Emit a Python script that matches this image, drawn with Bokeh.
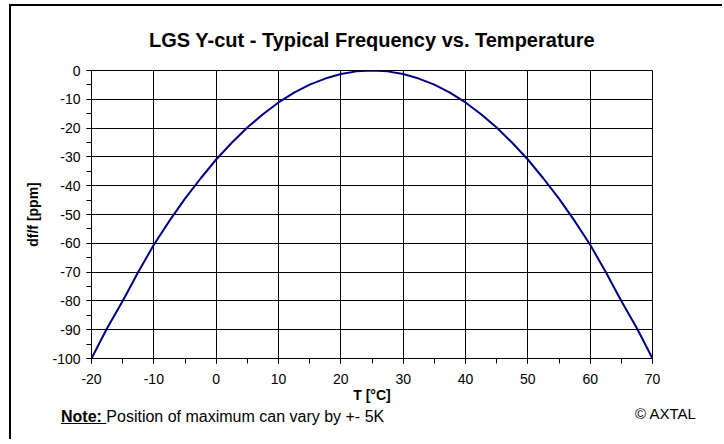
from bokeh.plotting import figure
from bokeh.layouts import column
from bokeh.models import Range1d, SingleIntervalTicker, PrintfTickFormatter, Div
from bokeh.embed import file_html
from bokeh.resources import INLINE

# data
temp_c = [-20, -17.5, -15, -12.5, -10, -7.5, -5, -2.5, 0, 2.5, 5, 7.5, 10, 12.5, 15, 17.5, 20, 22.5,
          25, 27.5, 30, 32.5, 35, 37.5, 40, 42.5, 45, 47.5, 50, 52.5, 55, 57.5, 60, 62.5, 65, 67.5, 70]
dff_ppm = [-100, -89.5, -80, -70, -60.5, -52.2, -44.5, -37.5, -30.9, -25.1, -19.8, -15.2, -11.1, -7.7, -4.9, -2.8, -1.2, -0.3,
           0, -0.3, -1.2, -2.8, -4.9, -7.7, -11.1, -15.2, -19.8, -25.1, -30.9, -37.5, -44.5, -52.2, -60.5, -70, -80, -89.5, -100]

title_text = "LGS Y-cut - Typical Frequency vs. Temperature"
x_label = "T [°C]"
y_label = "df/f [ppm]"
note_bold = "Note:"
note_text = "Position of maximum can vary by +- 5K"
copyright_text = "© AXTAL"

FONT = "Liberation Sans"

p = figure(frame_width=561, frame_height=288, output_backend="svg", toolbar_location=None,
           x_range=Range1d(-20, 70), y_range=Range1d(-100, 0),
           min_border_left=80, min_border_top=63, min_border_right=70, min_border_bottom=47,
           title=title_text)

p.title.align = "center"
p.title.text_font = FONT
p.title.text_font_size = "20px"
p.title.text_font_style = "bold"
p.title.text_color = "black"
p.title.standoff = 40

p.background_fill_color = "white"
p.border_fill_color = "white"
p.outline_line_color = "black"
p.outline_line_width = 1

p.line(temp_c, dff_ppm, line_color="#000080", line_width=2)

p.xaxis.ticker = SingleIntervalTicker(interval=10, num_minor_ticks=2)
p.yaxis.ticker = SingleIntervalTicker(interval=10, num_minor_ticks=2)
for ax in (p.xaxis, p.yaxis):
    ax.formatter = PrintfTickFormatter(format="%d")
    ax.axis_line_color = "black"
    ax.major_tick_line_color = "black"
    ax.minor_tick_line_color = "black"
    ax.major_tick_out = 5
    ax.major_tick_in = 0
    ax.minor_tick_out = 5
    ax.minor_tick_in = 0
    ax.major_label_text_font = FONT
    ax.major_label_text_font_size = "14px"
    ax.major_label_text_color = "black"
    ax.axis_label_text_font = FONT
    ax.axis_label_text_font_size = "14px"
    ax.axis_label_text_font_style = "bold"
    ax.axis_label_text_color = "black"

p.xaxis.axis_label = x_label
p.yaxis.axis_label = y_label
p.xaxis.major_label_standoff = 10
p.xaxis.axis_label_standoff = 0
p.yaxis.major_label_standoff = 6
p.yaxis.axis_label_standoff = 8

p.xgrid.grid_line_color = "black"
p.ygrid.grid_line_color = "black"

# footer with the note and the copyright
foot_html = (
    '<div style="position:relative;width:711px;height:36px;'
    'font-family:\'Liberation Sans\',Arial,sans-serif;color:black;">'
    '<div style="position:absolute;left:50px;top:4px;font-size:16px;line-height:16px;white-space:nowrap;">'
    '<span style="font-weight:bold;text-decoration:underline;">' + note_bold + ' </span>'
    + note_text + '</div>'
    '<div style="position:absolute;left:624px;top:1px;font-size:15px;line-height:15px;white-space:nowrap;">'
    + copyright_text + '</div>'
    '</div>'
)
foot = Div(text=foot_html, width=711, height=34, margin=0)

layout = column(p, foot, spacing=0,
                styles={"border-left": "2px solid black", "border-top": "2px solid black",
                        "margin-left": "9px", "margin-top": "4px"})

open("out.html", "w").write(file_html(layout, INLINE))
